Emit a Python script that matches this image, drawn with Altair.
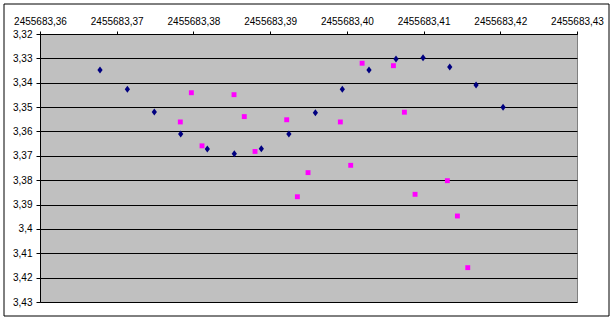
import altair as alt
import pandas as pd

# Series 1 (dark blue diamonds)
blue_x = [2455683.36782, 2455683.37139, 2455683.37490, 2455683.37834, 2455683.38181,
          2455683.38533, 2455683.38885, 2455683.39244, 2455683.39590, 2455683.39941,
          2455683.40289, 2455683.40641, 2455683.40993, 2455683.41341, 2455683.41684,
          2455683.42036]
blue_y = [3.3348, 3.3427, 3.3520, 3.3610, 3.3672, 3.3691, 3.3671, 3.3610, 3.3523,
          3.3427, 3.3348, 3.3303, 3.3297, 3.3335, 3.3409, 3.3501]

# Series 2 (magenta squares)
pink_x = [2455683.37829, 2455683.37973, 2455683.38112, 2455683.38529, 2455683.38663,
          2455683.38803, 2455683.39216, 2455683.39355, 2455683.39494, 2455683.39915,
          2455683.40050, 2455683.40199, 2455683.40607, 2455683.40750, 2455683.40889,
          2455683.41310, 2455683.41441, 2455683.41576]
pink_y = [3.3561, 3.3441, 3.3659, 3.3449, 3.3539, 3.3682, 3.3552, 3.3868, 3.3769,
          3.3561, 3.3739, 3.3320, 3.3330, 3.3521, 3.3858, 3.3802, 3.3947, 3.4159]

x_ticks = [2455683.36, 2455683.37, 2455683.38, 2455683.39, 2455683.40,
           2455683.41, 2455683.42, 2455683.43]
y_ticks = [3.32, 3.33, 3.34, 3.35, 3.36, 3.37, 3.38, 3.39, 3.40, 3.41, 3.42, 3.43]

blue = pd.DataFrame({"x": blue_x, "y": blue_y})
pink = pd.DataFrame({"x": pink_x, "y": pink_y})

FONT = "Liberation Sans"

xs = alt.Scale(domain=[x_ticks[0], x_ticks[-1]], nice=False, zero=False)
ys = alt.Scale(domain=[y_ticks[0], y_ticks[-1]], nice=False, zero=False, reverse=True)

x_axis = alt.Axis(orient="top", values=x_ticks, title=None, grid=False,
                  labelExpr="replace(format(datum.value, '.2f'), '.', ',')",
                  domainColor="black", tickColor="black", tickSize=3,
                  labelPadding=5, labelFont=FONT, labelFontSize=10, labelColor="black",
                  labelFlush=False, labelOverlap=False)
y_axis = alt.Axis(values=y_ticks, title=None, grid=True, gridColor="black", gridWidth=1,
                  gridOpacity=1,
                  labelExpr="replace(format(datum.value, '.2~f'), '.', ',')",
                  domainColor="black", tickColor="black", tickSize=4,
                  labelPadding=4, labelFont=FONT, labelFontSize=10, labelColor="black",
                  labelFlush=False, labelOverlap=False)

frame = alt.Chart(alt.Data(values=[{"a": 1}])).mark_rect(
    fillOpacity=0, stroke="black", strokeWidth=1, clip=False
).encode(x=alt.value(-36), x2=alt.value(569), y=alt.value(-30), y2=alt.value(282))

b = alt.Chart(blue).mark_point(shape="M0,-1L0.75,0L0,1L-0.75,0Z", filled=True,
                                color="#000080", size=49, opacity=1).encode(
    x=alt.X("x:Q", scale=xs, axis=x_axis),
    y=alt.Y("y:Q", scale=ys, axis=y_axis),
)
p = alt.Chart(pink).mark_point(shape="square", filled=True, color="#FF00FF",
                                size=24, opacity=1).encode(
    x=alt.X("x:Q", scale=xs, axis=x_axis),
    y=alt.Y("y:Q", scale=ys, axis=y_axis),
)

chart = alt.layer(frame, b, p).properties(
    width=537, height=268,
    autosize=alt.AutoSizeParams(type="none"),
    padding={"left": 40, "top": 34, "right": 37, "bottom": 20},
    background="white",
).configure_view(fill="#C0C0C0", stroke="#808080", strokeWidth=1)

chart.save("out.html", embed_options={"renderer": "svg", "actions": False})
